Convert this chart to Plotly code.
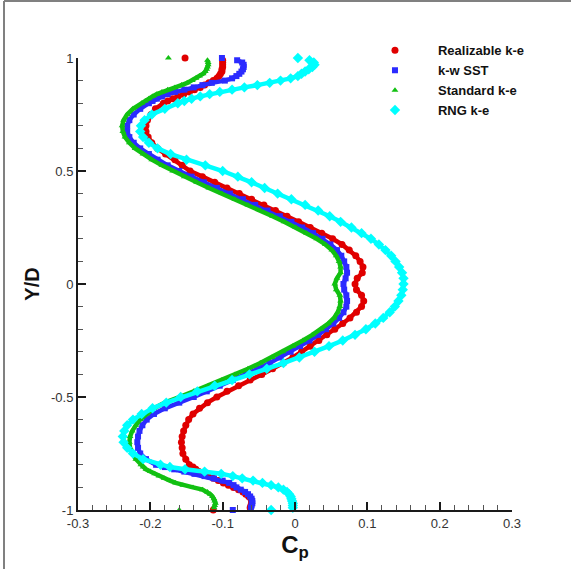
import plotly.graph_objects as go

# Y/D positions shared by the four profiles
y_over_d = [
    0.99, 0.98, 0.97, 0.96, 0.95, 0.94, 0.93, 0.92, 0.91,
    0.90, 0.89, 0.88, 0.87, 0.86, 0.85, 0.84, 0.83, 0.82, 0.81,
    0.80, 0.775, 0.75, 0.725, 0.70, 0.675, 0.65, 0.625, 0.60, 0.575, 0.55, 0.525,
    0.50, 0.475, 0.45, 0.425, 0.40, 0.375, 0.35, 0.325, 0.30, 0.275,
    0.25, 0.225, 0.20, 0.175, 0.15, 0.125, 0.10, 0.075, 0.05, 0.025,
    0.0, -0.025, -0.05, -0.075, -0.10, -0.125, -0.15, -0.175, -0.20, -0.225,
    -0.25, -0.275, -0.30, -0.325, -0.35, -0.375, -0.40, -0.425, -0.45, -0.475,
    -0.50, -0.525, -0.55, -0.575, -0.60, -0.625, -0.65, -0.675, -0.70, -0.725, -0.75, -0.775,
    -0.80, -0.81, -0.82, -0.83, -0.84, -0.85, -0.86, -0.87, -0.88, -0.89,
    -0.90, -0.91, -0.92, -0.93, -0.94, -0.95, -0.96, -0.97, -0.98, -0.99,
]

cp_realizable = [
    -0.100, -0.100, -0.100, -0.100, -0.101, -0.101, -0.103, -0.105, -0.108,
    -0.113, -0.119, -0.125, -0.131, -0.139, -0.146, -0.154, -0.162, -0.169, -0.176,
    -0.182, -0.193, -0.199, -0.204, -0.206, -0.206, -0.203, -0.198, -0.190, -0.179, -0.166, -0.156,
    -0.145, -0.128, -0.111, -0.094, -0.077, -0.060, -0.043, -0.027, -0.011, 0.005,
    0.021, 0.037, 0.052, 0.065, 0.075, 0.084, 0.090, 0.094, 0.093, 0.086,
    0.083, 0.085, 0.092, 0.095, 0.092, 0.085, 0.076, 0.066, 0.055, 0.044,
    0.033, 0.021, 0.009, -0.003, -0.016, -0.031, -0.046, -0.062, -0.078, -0.094,
    -0.108, -0.121, -0.132, -0.141, -0.147, -0.151, -0.154, -0.156, -0.157, -0.156, -0.155, -0.151,
    -0.146, -0.141, -0.137, -0.133, -0.128, -0.120, -0.113, -0.106, -0.099, -0.092,
    -0.085, -0.078, -0.072, -0.068, -0.064, -0.061, -0.060, -0.060, -0.061, -0.062,
]

cp_kw_sst = [
    -0.080, -0.073, -0.071, -0.071, -0.072, -0.074, -0.077, -0.081, -0.087,
    -0.097, -0.115, -0.128, -0.140, -0.153, -0.166, -0.176, -0.184, -0.191, -0.197,
    -0.202, -0.214, -0.223, -0.229, -0.232, -0.232, -0.229, -0.223, -0.214, -0.202, -0.190, -0.176,
    -0.160, -0.143, -0.126, -0.108, -0.090, -0.072, -0.055, -0.038, -0.021, -0.005,
    0.010, 0.025, 0.038, 0.049, 0.058, 0.064, 0.068, 0.071, 0.072, 0.070,
    0.067, 0.068, 0.071, 0.072, 0.071, 0.067, 0.061, 0.053, 0.043, 0.032,
    0.020, 0.007, -0.006, -0.020, -0.035, -0.051, -0.068, -0.086, -0.104, -0.122,
    -0.140, -0.160, -0.180, -0.195, -0.205, -0.211, -0.215, -0.217, -0.218, -0.217, -0.214, -0.206,
    -0.192, -0.180, -0.167, -0.153, -0.139, -0.125, -0.112, -0.100, -0.091, -0.085,
    -0.081, -0.075, -0.069, -0.065, -0.062, -0.060, -0.059, -0.059, -0.060, -0.061,
]

cp_standard = [
    -0.121, -0.120, -0.120, -0.121, -0.122, -0.124, -0.127, -0.132, -0.137,
    -0.142, -0.149, -0.157, -0.166, -0.176, -0.184, -0.191, -0.197, -0.202, -0.207,
    -0.212, -0.224, -0.232, -0.237, -0.239, -0.238, -0.235, -0.229, -0.221, -0.210, -0.198, -0.184,
    -0.169, -0.153, -0.136, -0.119, -0.101, -0.083, -0.065, -0.048, -0.031, -0.015,
    0.001, 0.016, 0.030, 0.042, 0.051, 0.057, 0.061, 0.063, 0.063, 0.058,
    0.055, 0.057, 0.062, 0.063, 0.062, 0.059, 0.054, 0.046, 0.036, 0.024,
    0.011, -0.003, -0.017, -0.032, -0.048, -0.065, -0.083, -0.101, -0.120, -0.140,
    -0.160, -0.180, -0.195, -0.205, -0.214, -0.220, -0.225, -0.228, -0.229, -0.228, -0.225, -0.220,
    -0.213, -0.210, -0.206, -0.200, -0.194, -0.188, -0.181, -0.173, -0.165, -0.155,
    -0.141, -0.128, -0.121, -0.117, -0.114, -0.112, -0.111, -0.110, -0.111, -0.112,
]

cp_rng = [
    0.020, 0.026, 0.027, 0.024, 0.019, 0.014, 0.009, 0.004, -0.006,
    -0.020, -0.035, -0.052, -0.070, -0.087, -0.104, -0.118, -0.131, -0.143, -0.153,
    -0.162, -0.180, -0.198, -0.208, -0.213, -0.214, -0.210, -0.202, -0.190, -0.172, -0.150, -0.124,
    -0.100, -0.079, -0.060, -0.042, -0.024, -0.005, 0.014, 0.032, 0.048, 0.063,
    0.078, 0.092, 0.105, 0.116, 0.125, 0.133, 0.139, 0.144, 0.148, 0.150,
    0.150, 0.149, 0.147, 0.143, 0.138, 0.131, 0.122, 0.111, 0.098, 0.083,
    0.066, 0.047, 0.027, 0.006, -0.016, -0.039, -0.063, -0.087, -0.111, -0.135,
    -0.158, -0.178, -0.197, -0.212, -0.224, -0.232, -0.236, -0.238, -0.237, -0.232, -0.224, -0.210,
    -0.186, -0.173, -0.152, -0.125, -0.102, -0.086, -0.073, -0.058, -0.045, -0.033,
    -0.023, -0.016, -0.011, -0.008, -0.006, -0.005, -0.004, -0.003, -0.003, -0.003,
]

# isolated end points at Y/D = +1 and -1
end_y = [1.0, -1.0]
end_realizable = [-0.152, -0.113]
end_kw_sst = [-0.101, -0.086]
end_standard = [-0.175, -0.160]
end_rng = [0.004, -0.033]

series_names = ["Realizable k-e", "k-w SST", "Standard k-e", "RNG k-e"]

x_tick_vals = [-0.3, -0.2, -0.1, 0.0, 0.1, 0.2, 0.3]
x_tick_text = ["-0.3", "-0.2", "-0.1", "0", "0.1", "0.2", "0.3"]
y_tick_vals = [-1.0, -0.5, 0.0, 0.5, 1.0]
y_tick_text = ["-1", "-0.5", "0", "0.5", "1"]

styles = [
    dict(symbol="circle", color="#e00000", size=7),
    dict(symbol="square", color="#2b2bff", size=6),
    dict(symbol="triangle-up", color="#12c012", size=6),
    dict(symbol="diamond", color="#00ffff", size=8),
]
series_values = [cp_realizable, cp_kw_sst, cp_standard, cp_rng]
end_values = [end_realizable, end_kw_sst, end_standard, end_rng]

fig = go.Figure()
for name, vals, ends, st in zip(series_names, series_values, end_values, styles):
    # dense band of the profile
    fig.add_trace(go.Scatter(
        x=vals, y=y_over_d, mode="lines", name=name, cliponaxis=False,
        line=dict(color=st["color"], width=4.5),
        showlegend=False, legendgroup=name, hoverinfo="skip",
    ))
    # markers (incl. isolated end points)
    fig.add_trace(go.Scatter(
        x=[ends[0]] + vals + [ends[1]], y=[end_y[0]] + y_over_d + [end_y[1]],
        mode="markers", name=name, cliponaxis=False, legendgroup=name,
        marker=dict(symbol=st["symbol"], color=st["color"], size=st["size"],
                    line=dict(width=0)),
    ))

axis_common = dict(
    showline=True, linecolor="#1a1a1a", linewidth=2, mirror=False,
    showgrid=False, zeroline=False,
    ticks="inside", ticklen=8, tickwidth=2, tickcolor="#1a1a1a",
    tickfont=dict(family="Liberation Sans, Arial, sans-serif", size=13, color="#333333"),
)

fig.update_layout(
    width=571, height=569,
    margin=dict(l=78, r=59, t=58, b=59, autoexpand=False),
    paper_bgcolor="white", plot_bgcolor="white",
    font=dict(family="Liberation Sans, Arial, sans-serif"),
    xaxis=dict(
        range=[-0.3, 0.3], tickvals=x_tick_vals, ticktext=x_tick_text,
        minor=dict(ticks="inside", dtick=0.02, tick0=-0.3, ticklen=5, tickwidth=1, tickcolor="#555555"),
        title=dict(text="<b>C<sub>p</sub></b>", standoff=6,
                   font=dict(family="Liberation Sans, Arial, sans-serif", size=24, color="#111111")),
        automargin=False,
        **axis_common,
    ),
    yaxis=dict(
        range=[-1, 1], tickvals=y_tick_vals, ticktext=y_tick_text,
        minor=dict(ticks="inside", dtick=0.1, tick0=-1, ticklen=5, tickwidth=1, tickcolor="#555555"),
        title=dict(text="<b>Y/D</b>", standoff=6,
                   font=dict(family="Liberation Sans, Arial, sans-serif", size=20, color="#111111")),
        automargin=False,
        **axis_common,
    ),
    legend=dict(
        x=0.6313, y=1.05, xanchor="left", yanchor="top",
        bgcolor="rgba(255,255,255,0)", borderwidth=0,
        itemwidth=76, tracegroupgap=0,
        font=dict(family="Liberation Sans, Arial, sans-serif", size=13, color="#111111", weight="bold"),
    ),
    showlegend=True,
    shapes=[
        dict(type="line", xref="paper", yref="paper", x0=-0.1705, x1=-0.1705, y0=1.1261, y1=-0.16,
             line=dict(color="#808080", width=2)),
        dict(type="line", xref="paper", yref="paper", x0=-0.1705, x1=1.16, y0=1.1261, y1=1.1261,
             line=dict(color="#808080", width=2)),
    ],
)

fig.write_html("out.html", config={"displayModeBar": False},
               post_script="document.body.style.margin='0';")
